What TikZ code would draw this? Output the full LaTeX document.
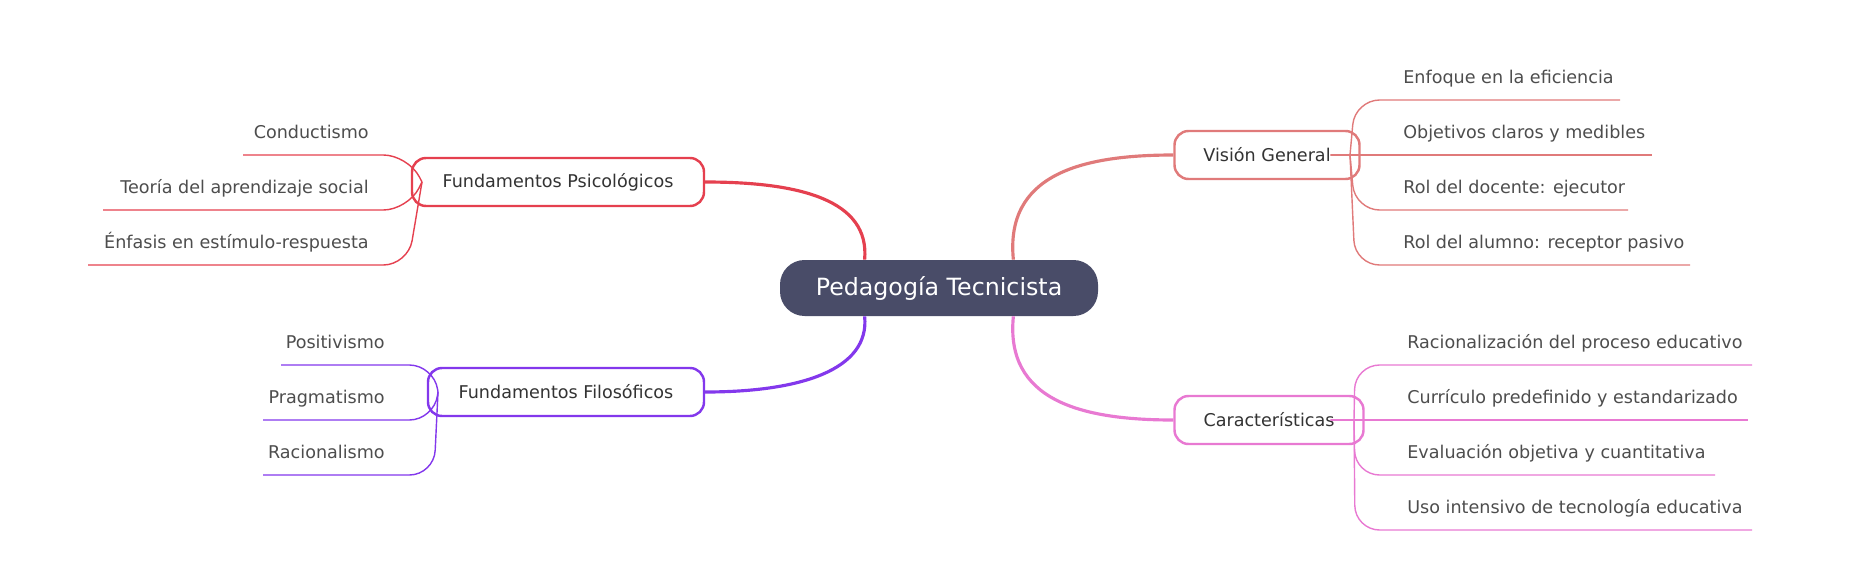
\documentclass[tikz,border=0pt]{standalone}
\usepackage{fontspec}
\setmainfont{DejaVu Sans}
\usetikzlibrary{positioning, calc}
\definecolor{hub}{HTML}{494C68}
\definecolor{vision}{HTML}{E07A7A}
\definecolor{carac}{HTML}{E879D2}
\definecolor{psico}{HTML}{E5404F}
\definecolor{filo}{HTML}{8338EC}
\definecolor{leaftext}{HTML}{4D4D4D}

\begin{document}
\begin{tikzpicture}[
    x=0.02cm, y=-0.02cm,
    center/.style={rectangle, rounded corners=14pt, fill=hub, text=white, minimum width=318*0.02cm, minimum height=56*0.02cm, font=\fontsize{13.5}{16}\selectfont},
    topic/.style={rectangle, draw=#1, line width=1.4pt, rounded corners=8pt, fill=white, minimum height=48*0.02cm, text=black!80, font=\fontsize{10}{12}\selectfont},
    leaf/.style={inner sep=0pt, text=leaftext, font=\fontsize{10}{12}\selectfont},
    mainlink/.style={line width=1.8pt, #1},
    leaflink/.style={line width=0.8pt, #1, rounded corners=14pt}
]
    \useasboundingbox (0,0) rectangle (1849,575);

    % Center
    \node (hub) [center] at (939,288) {Pedagogía Tecnicista};

    % Topics
    \node (vision) [topic=vision, minimum width=185*0.02cm] at (1267,155) {Visión General};
    \node (carac) [topic=carac, minimum width=189*0.02cm] at (1269,420) {Características};
    \node (psico) [topic=psico, minimum width=292*0.02cm] at (558,182) {Fundamentos Psicológicos};
    \node (filo) [topic=filo, minimum width=276*0.02cm] at (566,392) {Fundamentos Filosóficos};

    % Main links
    \draw [mainlink=vision] ([xshift=-1.7cm]hub.north east) .. controls (1005,175) and (1080,155) .. (vision.west);
    \draw [mainlink=carac] ([xshift=-1.7cm]hub.south east) .. controls (1005,400) and (1080,420) .. (carac.west);
    \draw [mainlink=psico] ([xshift=1.7cm]hub.north west) .. controls (870,200) and (800,182) .. (psico.east);
    \draw [mainlink=filo] ([xshift=1.7cm]hub.south west) .. controls (870,370) and (800,392) .. (filo.east);

    % Visión General leaves
    \foreach \i/\txt/\len in {0/Enfoque en la eficiencia/230, 1/Objetivos claros y medibles/262, 2/Rol del docente: ejecutor/238, 3/Rol del alumno: receptor pasivo/300} {
        \coordinate (v\i) at (1390,100+55*\i);
        \node (vt\i) [leaf, anchor=base west] at (1403,83+55*\i) {\txt};
        \draw [leaflink=vision] (1350,155) -- ($(v\i)+(-35,0)$) -- ++(35+\len,0);
    }

    % Características leaves
    \foreach \i/\txt/\len in {0/Racionalización del proceso educativo/362, 1/Currículo predefinido y estandarizado/358, 2/Evaluación objetiva y cuantitativa/325, 3/Uso intensivo de tecnología educativa/362} {
        \coordinate (c\i) at (1390,365+55*\i);
        \node (ct\i) [leaf, anchor=base west] at (1407,348+55*\i) {\txt};
        \draw [leaflink=carac] (1354,420) -- ($(c\i)+(-35,0)$) -- ++(35+\len,0);
    }

    % Psicológicos leaves
    \foreach \i/\txt/\len in {0/Conductismo/165, 1/Teoría del aprendizaje social/305, 2/Énfasis en estímulo-respuesta/320} {
        \coordinate (p\i) at (418,155+55*\i);
        \node (pt\i) [leaf, anchor=base east] at (369,138+55*\i) {\txt};
        \draw [leaflink=psico] (422,182) -- ($(p\i)+(-10,0)$) -- ++(-\len,0);
    }

    % Filosóficos leaves
    \foreach \i/\txt/\len in {0/Positivismo/153, 1/Pragmatismo/171, 2/Racionalismo/171} {
        \coordinate (f\i) at (436,365+55*\i);
        \node (ft\i) [leaf, anchor=base east] at (385,348+55*\i) {\txt};
        \draw [leaflink=filo] (438,392) -- ($(f\i)+(-2,0)$) -- ++(-\len,0);
    }
\end{tikzpicture}
\end{document}
